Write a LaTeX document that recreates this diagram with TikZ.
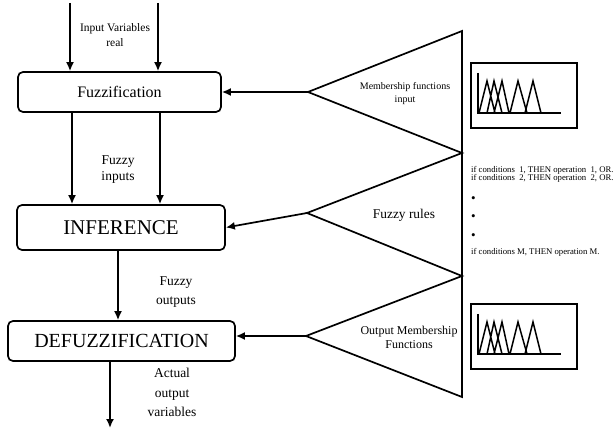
\documentclass[tikz,border=0pt]{standalone}
\usepackage{fontspec}
\setmainfont{Liberation Serif}
\usetikzlibrary{arrows.meta}
\newcommand{\mfchart}[2]{%
 \begin{scope}[shift={(#1,#2)}]
  \draw[line width=1.8pt] (0,0) rectangle (106,65);
  \draw[line width=1.7pt, line join=miter] (7,10) -- (7,50) -- (90,50);
  \draw[line width=1.5pt, line join=miter]
     (8,50) -- (16,18) -- (24,50)
     (16,50) -- (23,18) -- (31,50)
     (23,50) -- (31,18) -- (38,50)
     (39,50) -- (47,18) -- (56,50)
     (54,50) -- (62,18) -- (70,50);
 \end{scope}}
\begin{document}
\begin{tikzpicture}[x=1pt,y=-1pt,
  blk/.style={draw, line width=1.7pt, rounded corners=5pt, inner sep=0pt},
  arr/.style={line width=1.7pt, -{Latex[length=9pt,width=8pt]}},
  lbl/.style={inner sep=0pt, align=center},
  rulet/.style={inner sep=0pt, anchor=west, font=\fontsize{8.7}{9}\selectfont},
  ln/.style={line width=1.7pt, line join=miter}]
\useasboundingbox (0,0) rectangle (616,430);
% blocks
\node[blk, minimum width=203pt, minimum height=40pt, font=\fontsize{16}{18}\selectfont] (fuzz) at (119.5,92) {Fuzzification};
\node[blk, minimum width=208pt, minimum height=45pt, font=\fontsize{21}{23}\selectfont] (inf) at (121,227.5) {INFERENCE};
\node[blk, minimum width=227pt, minimum height=40pt, font=\fontsize{20}{22}\selectfont] (defz) at (121.5,341) {DEFUZZIFICATION};
% helper coordinates
\coordinate (xa) at (70,3);
\coordinate (xb) at (158,3);
\coordinate (xc) at (72,0);
\coordinate (xd) at (160,0);
\coordinate (xe) at (118,0);
\coordinate (outend) at (110,428);
% vertical arrows
\draw[arr] (xa) -- (fuzz.north -| xa);
\draw[arr] (xb) -- (fuzz.north -| xb);
\draw[arr] (fuzz.south -| xc) -- (inf.north -| xc);
\draw[arr] (fuzz.south -| xd) -- (inf.north -| xd);
\draw[arr] (inf.south -| xe) -- (defz.north -| xe);
\draw[arr] (defz.south -| outend) -- (outend);
% triangles
\coordinate (t0) at (462,31);
\coordinate (a1) at (308,92);
\coordinate (t1) at (462,153);
\coordinate (a2) at (307,213);
\coordinate (t2) at (462,276);
\coordinate (a3) at (306,336);
\coordinate (t3) at (462,397);
\draw[ln] (t0) -- (a1) -- (t1) -- (a2) -- (t2) -- (a3) -- (t3) -- cycle;
% horizontal arrows
\draw[arr] (a1) -- (fuzz.east |- a1);
\draw[arr] (a2) -- (inf.east);
\draw[arr] (a3) -- (defz.east |- a3);
% labels
\node[lbl, font=\fontsize{11.5}{15}\selectfont] (inlbl) at (115,35.5) {Input Variables\\real};
\node[lbl, font=\fontsize{13.5}{15.5}\selectfont] (filbl) at (118,169.5) {Fuzzy\\inputs};
\node[lbl, font=\fontsize{13.5}{19}\selectfont] (folbl) at (176,292.5) {Fuzzy\\outputs};
\node[lbl, font=\fontsize{13.5}{19.5}\selectfont] (aolbl) at (172,392.5) {Actual\\output\\variables};
\node[lbl, font=\fontsize{10}{13}\selectfont] (mflbl) at (405,94) {Membership functions\\input};
\node[lbl, font=\fontsize{13.4}{15}\selectfont] (frlbl) at (404,215) {Fuzzy rules};
\node[lbl, font=\fontsize{12}{14}\selectfont] (omlbl) at (409,337.5) {Output Membership\\Functions};
% rules
\node[rulet] (r1) at (471,170) {if conditions\ \ 1, THEN operation\ \ 1, OR.};
\node[rulet] (r2) at (471,178.5) {if conditions\ \ 2, THEN operation\ \ 2, OR.};
\node[rulet] (d1) at (471,200) {\fontsize{13}{13}\selectfont\textbullet};
\node[rulet] (d2) at (471,218) {\fontsize{13}{13}\selectfont\textbullet};
\node[rulet] (d3) at (471,237) {\fontsize{13}{13}\selectfont\textbullet};
\node[rulet] (rm) at (471,252) {if conditions M, THEN operation M.};
% membership charts
\mfchart{471}{63}
\mfchart{471}{304}
\end{tikzpicture}
\end{document}
